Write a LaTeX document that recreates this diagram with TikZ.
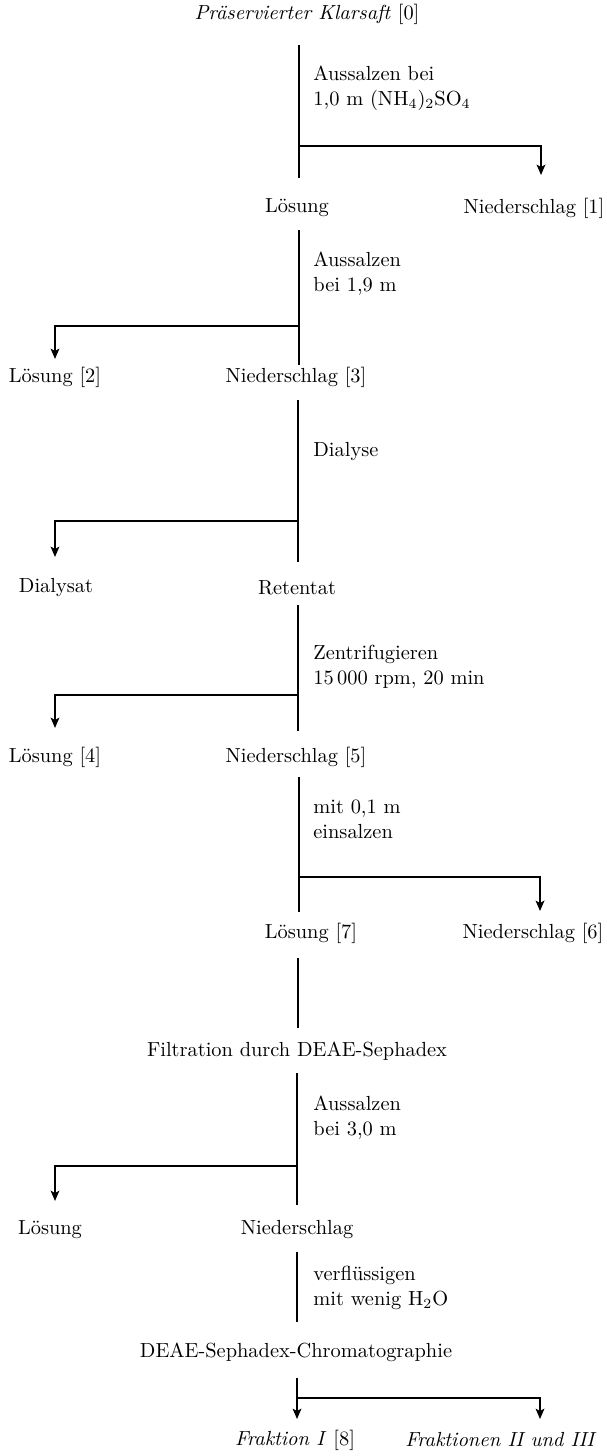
\documentclass[tikz,border=0pt]{standalone}
\usetikzlibrary{arrows.meta}
\begin{document}
\begin{tikzpicture}[x=0.5pt,y=-0.5pt,
  every node/.style={font=\fontsize{10.2}{12.5}\selectfont, inner sep=0pt},
  lbl/.style={anchor=west, align=left},
  flow/.style={line width=0.65pt},
  arr/.style={line width=0.65pt,-{Stealth[length=5.2pt,width=4.4pt,inset=1.2pt]}}]
\useasboundingbox (0,0) rectangle (606,1456);
% nodes
\node (n0) at (307,14) {\textit{Präservierter Klarsaft} [0]};
\node (n1a) at (297,208) {Lösung};
\node (n1b) at (534,208) {Niederschlag [1]};
\node (n2a) at (55,377) {Lösung [2]};
\node (n2b) at (296,377) {Niederschlag [3]};
\node (n3a) at (56,588) {Dialysat};
\node (n3b) at (297,588) {Retentat};
\node (n4a) at (55,757) {Lösung [4]};
\node (n4b) at (296,757) {Niederschlag [5]};
\node (n5a) at (311,933) {Lösung [7]};
\node (n5b) at (533,933) {Niederschlag [6]};
\node (n6) at (297,1051) {Filtration durch DEAE-Sephadex};
\node (n7a) at (50,1230) {Lösung};
\node (n7b) at (297,1230) {Niederschlag};
\node (n8) at (296,1352) {DEAE-Sephadex-Chromatographie};
\node (n9a) at (295,1440) {\textit{Fraktion I} [8]};
\node (n9b) at (501,1440) {\textit{Fraktionen II und III}};
% labels
\node[lbl] (l1) at (313,88) {Aussalzen bei\\1,0 m (NH$_4$)$_2$SO$_4$};
\node[lbl] (l2) at (313,274) {Aussalzen\\bei 1,9 m};
\node[lbl] (l3) at (313,452) {Dialyse};
\node[lbl] (l4) at (313,667) {Zentrifugieren\\15\,000 rpm, 20 min};
\node[lbl] (l5) at (313,819) {mit 0,1 m\\einsalzen};
\node[lbl] (l7) at (313,1118) {Aussalzen\\bei 3,0 m};
\node[lbl] (l8) at (313,1288) {verflüssigen\\mit wenig H$_2$O};
% coordinates
\coordinate (v1s) at (299,45);  \coordinate (v1e) at (299,178);
\coordinate (b1) at (299,146);  \coordinate (c1) at (541,146); \coordinate (t1) at (541,175);
\coordinate (v2s) at (299,230); \coordinate (v2e) at (299,365);
\coordinate (b2) at (299,326);  \coordinate (c2) at (55,326);  \coordinate (t2) at (55,359);
\coordinate (v3s) at (298,400); \coordinate (v3e) at (298,562);
\coordinate (b3) at (298,521);  \coordinate (c3) at (55,521);  \coordinate (t3) at (55,557);
\coordinate (v4s) at (298,605); \coordinate (v4e) at (298,731);
\coordinate (b4) at (298,695);  \coordinate (c4) at (55,695);  \coordinate (t4) at (55,728);
\coordinate (v5s) at (299,777); \coordinate (v5e) at (299,912);
\coordinate (b5) at (299,877);  \coordinate (c5) at (540,877); \coordinate (t5) at (540,911);
\coordinate (v6s) at (298,958); \coordinate (v6e) at (298,1028);
\coordinate (v7s) at (297,1073); \coordinate (v7e) at (297,1205);
\coordinate (b7) at (297,1166); \coordinate (c7) at (55,1166); \coordinate (t7) at (55,1201);
\coordinate (v8s) at (297,1252); \coordinate (v8e) at (297,1322);
\coordinate (v9s) at (297,1378); \coordinate (t9a) at (297,1419);
\coordinate (b9) at (297,1398); \coordinate (c9) at (540,1398); \coordinate (t9b) at (540,1419);
% connectors
\draw[flow] (v1s) -- (v1e);
\draw[arr] (b1) -- (c1) -- (t1);
\draw[flow] (v2s) -- (v2e);
\draw[arr] (b2) -- (c2) -- (t2);
\draw[flow] (v3s) -- (v3e);
\draw[arr] (b3) -- (c3) -- (t3);
\draw[flow] (v4s) -- (v4e);
\draw[arr] (b4) -- (c4) -- (t4);
\draw[flow] (v5s) -- (v5e);
\draw[arr] (b5) -- (c5) -- (t5);
\draw[flow] (v6s) -- (v6e);
\draw[flow] (v7s) -- (v7e);
\draw[arr] (b7) -- (c7) -- (t7);
\draw[flow] (v8s) -- (v8e);
\draw[arr] (v9s) -- (t9a);
\draw[arr] (b9) -- (c9) -- (t9b);
\end{tikzpicture}
\end{document}
